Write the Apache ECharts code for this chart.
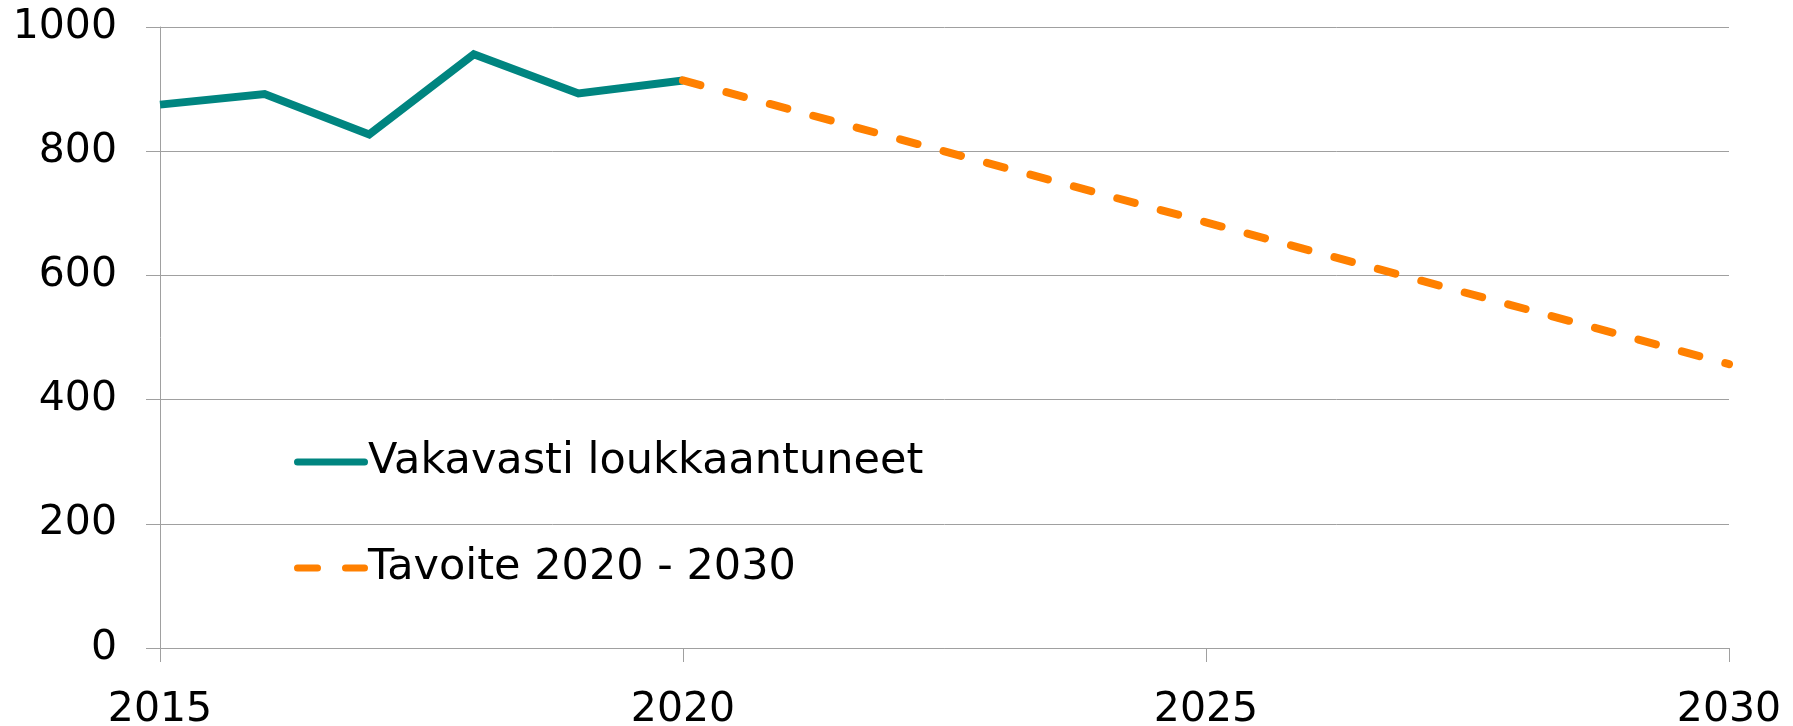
<!DOCTYPE html>
<html>
<head>
<meta charset="utf-8">
<script src="https://cdn.jsdelivr.net/npm/echarts@6/dist/echarts.min.js"></script>
<style>
  html, body { margin: 0; padding: 0; background: #fff; }
  #chart { width: 1793px; height: 726px; }
</style>
</head>
<body>
<div id="chart"></div>
<script>
var years = [2015, 2016, 2017, 2018, 2019, 2020];
var injured = [875, 892, 827, 956, 893, 914];
var targetYears = [2020, 2030];
var targetValues = [914, 457];
var yTicks = [0, 200, 400, 600, 800, 1000];

function pairs(xs, ys) {
    var out = [];
    for (var i = 0; i < xs.length; i++) {
        out.push([xs[i], ys[i]]);
    }
    return out;
}

var font = 'DejaVu Sans, Verdana, sans-serif';
var gray = '#a0a0a0';
var teal = '#008580';
var orange = '#ff8000';

// legend icons: a solid pill and two dashed pills
var solidIcon = 'path://M3.5,0 L70.5,0 A3.5,3.5 0 0 1 70.5,7 L3.5,7 A3.5,3.5 0 0 1 3.5,0 Z';
var dashIcon = 'path://M3.5,0 L23.5,0 A3.5,3.5 0 0 1 23.5,7 L3.5,7 A3.5,3.5 0 0 1 3.5,0 Z ' +
    'M51.5,0 L70.5,0 A3.5,3.5 0 0 1 70.5,7 L51.5,7 A3.5,3.5 0 0 1 51.5,0 Z';

var option = {
    animation: false,
    grid: { left: 160, right: 64, top: 27, bottom: 78, outerBoundsMode: 'none', containLabel: false },
    legend: {
        orient: 'vertical',
        left: 289,
        top: 432,
        itemWidth: 74,
        itemHeight: 7,
        itemGap: 56,
        symbolKeepAspect: false,
        textStyle: { fontFamily: font, fontSize: 43, color: '#000', lineHeight: 50, padding: [0, 0, 0, -5] },
        data: [
            { name: 'Vakavasti loukkaantuneet', icon: solidIcon, itemStyle: { color: teal } },
            { name: 'Tavoite 2020 - 2030', icon: dashIcon, itemStyle: { color: orange } }
        ]
    },
    xAxis: {
        type: 'value',
        min: 2015,
        max: 2030,
        interval: 5,
        axisLine: { lineStyle: { color: gray, width: 1 } },
        axisTick: { show: true, length: 14, lineStyle: { color: gray } },
        splitLine: { show: false },
        axisLabel: {
            fontFamily: font, fontSize: 41, color: '#000', margin: 42,
            formatter: function (v) { return String(v); }
        }
    },
    yAxis: {
        type: 'value',
        min: yTicks[0],
        max: yTicks[yTicks.length - 1],
        interval: 200,
        axisLine: { show: true, lineStyle: { color: gray, width: 1 } },
        axisTick: { show: true, length: 14, lineStyle: { color: gray } },
        splitLine: { show: true, lineStyle: { color: gray, width: 1 } },
        axisLabel: {
            fontFamily: font, fontSize: 41, color: '#000', margin: 43,
            formatter: function (v) { return String(v); }
        }
    },
    series: [
        {
            name: 'Vakavasti loukkaantuneet',
            type: 'line',
            data: pairs(years, injured),
            symbol: 'none',
            color: teal,
            lineStyle: { color: teal, width: 8, join: 'miter' }
        },
        {
            name: 'Tavoite 2020 - 2030',
            type: 'line',
            data: pairs(targetYears, targetValues),
            symbol: 'none',
            color: orange,
            lineStyle: { color: orange, width: 8, type: [18, 27], cap: 'round' }
        }
    ]
};

var myChart = echarts.init(document.getElementById('chart'));
myChart.setOption(option);
</script>
</body>
</html>
